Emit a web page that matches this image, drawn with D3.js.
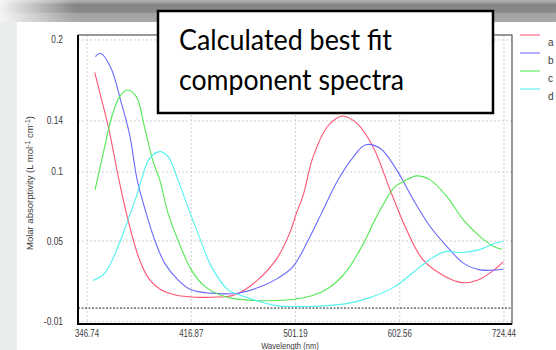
<!DOCTYPE html>
<html>
<head>
<meta charset="utf-8">
<script src="https://cdn.jsdelivr.net/npm/d3@7"></script>
<style>
    body { margin: 0; background: #fff; }
    svg { display: block; }
    .tick-label { font-family: "Liberation Sans", Arial, sans-serif; fill: #3a3a3a; }
</style>
</head>
<body>
<svg></svg>
<script>
// series: [wavelength (nm), molar absorptivity]
const seriesA = [
    [351.5, 0.1759], [355.6, 0.1565], [360.5, 0.1329], [366.9, 0.0956], [372.8, 0.0658],
    [380.5, 0.0359], [387.4, 0.0210], [395.2, 0.0136], [405.3, 0.0098], [419.9, 0.0081],
    [431.7, 0.0081], [449.9, 0.0098], [468.9, 0.0210], [486.0, 0.0384], [497.2, 0.0583],
    [502.1, 0.0710], [507.9, 0.0837], [517.0, 0.1128], [529.9, 0.1351], [539.4, 0.1418],
    [545.4, 0.1433], [558.5, 0.1379], [574.8, 0.1204], [592.4, 0.0881], [610.0, 0.0583],
    [628.0, 0.0359], [652.9, 0.0235], [672.3, 0.0190], [692.1, 0.0210], [709.1, 0.0272],
    [723.8, 0.0347]
];
const seriesB = [
    [351.9, 0.1875], [355.2, 0.1901], [361.8, 0.1789], [368.2, 0.1540], [373.9, 0.1292],
    [378.9, 0.0956], [384.9, 0.0710], [390.8, 0.0508], [397.7, 0.0335], [407.2, 0.0210],
    [416.7, 0.0136], [431.7, 0.0111], [452.6, 0.0111], [471.5, 0.0160], [486.0, 0.0223],
    [499.0, 0.0309], [512.7, 0.0508], [524.9, 0.0710], [540.3, 0.0956], [555.4, 0.1130],
    [566.8, 0.1217], [582.0, 0.1192], [599.3, 0.1031], [617.3, 0.0807], [635.8, 0.0608],
    [655.0, 0.0459], [674.3, 0.0335], [694.5, 0.0285], [723.8, 0.0290]
];
const seriesC = [
    [351.7, 0.0881], [357.3, 0.1180], [362.0, 0.1416], [367.3, 0.1577], [372.4, 0.1627],
    [378.3, 0.1577], [384.0, 0.1342], [389.7, 0.1092], [394.3, 0.0956], [400.1, 0.0708],
    [407.2, 0.0508], [416.9, 0.0285], [427.2, 0.0160], [442.2, 0.0086], [458.1, 0.0061],
    [486.0, 0.0056], [500.5, 0.0066], [515.8, 0.0091], [531.1, 0.0148], [547.0, 0.0260],
    [563.5, 0.0459], [580.3, 0.0708], [597.5, 0.0906], [606.4, 0.0943], [621.0, 0.0986],
    [635.8, 0.0956], [655.0, 0.0831], [674.3, 0.0658], [694.5, 0.0533], [711.5, 0.0459],
    [721.8, 0.0439]
];
const seriesD = [
    [350.4, 0.0205], [357.8, 0.0260], [366.3, 0.0459], [372.8, 0.0658], [378.3, 0.0831],
    [381.7, 0.0956], [387.4, 0.1118], [394.3, 0.1167], [400.1, 0.1130], [407.2, 0.0956],
    [414.3, 0.0757], [422.8, 0.0533], [432.0, 0.0309], [444.9, 0.0136], [458.1, 0.0086],
    [474.6, 0.0037], [486.0, 0.0016], [500.5, 0.0011], [512.7, 0.0011], [547.0, 0.0031],
    [570.0, 0.0074], [597.5, 0.0160], [615.9, 0.0260], [634.7, 0.0359], [652.9, 0.0421],
    [672.3, 0.0414], [692.5, 0.0434], [713.4, 0.0484], [723.8, 0.0496]
];
const seriesNames = ["a", "b", "c", "d"];
const seriesColors = ["#ff5470", "#6a6aff", "#52e852", "#4ff2ee"];
const xTicks = [346.74, 416.87, 501.19, 602.56, 724.44];
const yTicks = [0.2, 0.1396, 0.1015, 0.05, -0.01];
const titleLines = ["Calculated best fit", "component spectra"];

const width = 556, height = 350;
const svg = d3.select("svg").attr("width", width).attr("height", height);
const defs = svg.append("defs");

// _________________________
// window background
// _________________________
const topGrad = defs.append("linearGradient").attr("id", "topGrad")
    .attr("x1", 0).attr("y1", 0).attr("x2", 0).attr("y2", 1);
[[0, "#b2b2b2"], [0.12, "#a0a0a0"], [0.2, "#848484"], [0.55, "#8a8a8a"], [0.62, "#a2a2a2"], [1, "#a9a9a9"]]
    .forEach(([o, c]) => topGrad.append("stop").attr("offset", o).attr("stop-color", c));
const fadeGrad = defs.append("linearGradient").attr("id", "fadeGrad")
    .attr("x1", 0).attr("y1", 0).attr("x2", 1).attr("y2", 0);
fadeGrad.append("stop").attr("offset", 0).attr("stop-color", "#fff").attr("stop-opacity", 0.9);
fadeGrad.append("stop").attr("offset", 1).attr("stop-color", "#fff").attr("stop-opacity", 0);

svg.append("rect").attr("width", width).attr("height", height).attr("fill", "#fff");
svg.append("rect").attr("width", width).attr("height", 22).attr("fill", "url(#topGrad)");
svg.append("rect").attr("width", 75).attr("height", 22).attr("fill", "url(#fadeGrad)");
svg.append("rect").attr("y", 22).attr("width", 17).attr("height", height - 22).attr("fill", "#e8eded");

// _________________________
// scales
// _________________________
const plot = {left: 78, right: 512, top: 35, bottom: 324};
const x = d3.scaleLog().domain([341.27, 734.8]).range([plot.left, plot.right]);
const y = d3.scaleLinear().domain([-0.0119, 0.2037]).range([plot.bottom, plot.top]);
const fmt = d3.format(".2~r");

// squeeze text horizontally like the narrow font of the original
function condense(sel, k) {
    sel.each(function() {
        const w = this.getComputedTextLength();
        d3.select(this).attr("textLength", w * k).attr("lengthAdjust", "spacingAndGlyphs");
    });
}

// grid
const grid = svg.append("g").attr("stroke", "#cfcfcf").attr("stroke-dasharray", "2,2").attr("stroke-width", 1);
grid.selectAll(".gx").data(xTicks).enter().append("line")
    .attr("x1", d => x(d)).attr("x2", d => x(d))
    .attr("y1", plot.top).attr("y2", plot.bottom);
grid.selectAll(".gy").data(yTicks).enter().append("line")
    .attr("x1", plot.left).attr("x2", plot.right)
    .attr("y1", d => y(d)).attr("y2", d => y(d));

// zero line
svg.append("line")
    .attr("x1", plot.left).attr("x2", plot.right)
    .attr("y1", y(0)).attr("y2", y(0))
    .attr("stroke", "#222").attr("stroke-width", 1).attr("stroke-dasharray", "2,1.5");

// curves
const line = d3.line()
    .x(d => x(d[0]))
    .y(d => y(d[1]))
    .curve(d3.curveCatmullRom.alpha(0.5));
[seriesA, seriesB, seriesC, seriesD].forEach((s, i) => {
    svg.append("path")
        .attr("d", line(s))
        .attr("fill", "none")
        .attr("stroke", seriesColors[i])
        .attr("stroke-width", 1.1);
});

// frame
svg.append("rect")
    .attr("x", plot.left).attr("y", plot.top)
    .attr("width", plot.right - plot.left).attr("height", plot.bottom - plot.top)
    .attr("fill", "none").attr("stroke", "#333").attr("stroke-width", 1);
svg.append("path")
    .attr("d", `M${plot.left},${plot.top}V${plot.bottom}H${plot.right}`)
    .attr("fill", "none").attr("stroke", "#000").attr("stroke-width", 2);

// tick labels
svg.selectAll(".xl").data(xTicks).enter().append("text")
    .attr("class", "tick-label")
    .attr("x", d => x(d)).attr("y", 337)
    .attr("text-anchor", "middle")
    .style("font-size", "10.5px")
    .text(d => d)
    .call(condense, 0.75);
svg.selectAll(".yl").data(yTicks).enter().append("text")
    .attr("class", "tick-label")
    .attr("x", 63).attr("y", d => y(d) + 3.5)
    .attr("text-anchor", "end")
    .style("font-size", "10.5px")
    .text(d => fmt(d).replace("\u2212", "-"))
    .call(condense, 0.8);

// axis titles
svg.append("text")
    .attr("class", "tick-label")
    .attr("x", 290).attr("y", 349)
    .attr("text-anchor", "middle")
    .style("font-size", "9.5px")
    .text("Wavelength (nm)")
    .call(condense, 0.8);
const yTitle = svg.append("text")
    .attr("class", "tick-label")
    .attr("transform", "translate(33,183) rotate(-90)")
    .attr("text-anchor", "middle")
    .style("font-size", "9.5px");
yTitle.append("tspan").text("Molar absorptivity (L mol");
yTitle.append("tspan").attr("dy", -3).style("font-size", "7px").text("-1");
yTitle.append("tspan").attr("dy", 3).text(" cm");
yTitle.append("tspan").attr("dy", -3).style("font-size", "7px").text("-1");
yTitle.append("tspan").attr("dy", 3).text(")");

// legend
const legend = svg.append("g").selectAll("g").data(seriesNames).enter().append("g")
    .attr("transform", (d, i) => `translate(520,${35 + i * 18})`);
legend.append("line")
    .attr("x1", 0).attr("x2", 20)
    .attr("stroke", (d, i) => seriesColors[i]).attr("stroke-width", 1.5).attr("opacity", 0.7);
legend.append("text")
    .attr("class", "tick-label")
    .attr("x", 28).attr("y", 11)
    .style("font-size", "10px")
    .text(d => d);

// _________________________
// callout box
// _________________________
svg.append("rect")
    .attr("x", 158).attr("y", 11).attr("width", 335).attr("height", 102)
    .attr("fill", "#fff").attr("stroke", "#000").attr("stroke-width", 2.5);
svg.selectAll(".title").data(titleLines).enter().append("text")
    .attr("x", 179).attr("y", (d, i) => 50 + i * 40)
    .attr("textLength", (d, i) => i === 0 ? 213 : 225)
    .attr("lengthAdjust", "spacingAndGlyphs")
    .style("font-family", "Lato, 'Open Sans', sans-serif")
    .style("font-size", "28px")
    .style("fill", "#000")
    .text(d => d);
</script>
</body>
</html>
